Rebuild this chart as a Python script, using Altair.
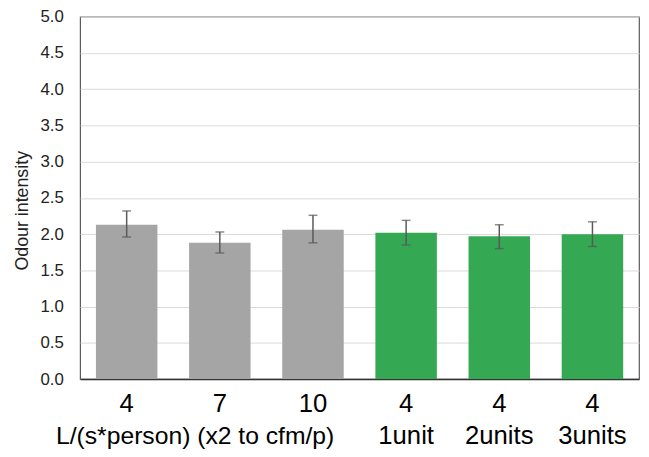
import altair as alt
import pandas as pd

categories = ["4 L/s", "7 L/s", "10 L/s", "4 L/s 1unit", "4 L/s 2units", "4 L/s 3units"]
tick_labels = ["4", "7", "10", "4", "4", "4"]
groups = ["ventilation", "ventilation", "ventilation", "unit", "unit", "unit"]
means = [2.13, 1.88, 2.06, 2.02, 1.97, 2.00]
err_low = [1.96, 1.74, 1.88, 1.85, 1.80, 1.83]
err_high = [2.32, 2.03, 2.26, 2.19, 2.13, 2.17]
unit_cats = ["4 L/s 1unit", "4 L/s 2units", "4 L/s 3units"]
unit_labels = ["1unit", "2units", "3units"]
group_cat = ["7 L/s"]
group_label = ["L/(s*person) (x2 to cfm/p)"]
y_ticks = [0.0, 0.5, 1.0, 1.5, 2.0, 2.5, 3.0, 3.5, 4.0, 4.5, 5.0]

FONT = "Liberation Sans"
Y_TITLE = "Odour intensity"

df = pd.DataFrame({"cat": categories, "group": groups, "mean": means,
                   "low": err_low, "high": err_high})
units_df = pd.DataFrame({"cat": unit_cats, "label": unit_labels})
group_df = pd.DataFrame({"cat": group_cat, "label": group_label})

label_map = "{" + ",".join(f"'{c}':'{t}'" for c, t in zip(categories, tick_labels)) + "}"

x_scale = alt.Scale(domain=categories, paddingInner=0.34, paddingOuter=0.17)
y_scale = alt.Scale(domain=[0, 5], nice=False)


def xe():
    return alt.X("cat:N", sort=categories, title=None, scale=x_scale)


bars = alt.Chart(df).mark_bar().encode(
    x=xe(),
    y=alt.Y("mean:Q", scale=y_scale, title=Y_TITLE),
    color=alt.Color("group:N", scale=alt.Scale(domain=["ventilation", "unit"],
                                               range=["#a5a5a5", "#34a853"]),
                    legend=None),
)

err_rule = alt.Chart(df).mark_rule(color="#595959", strokeWidth=1.5).encode(
    x=xe(),
    y=alt.Y("low:Q", scale=y_scale, title=Y_TITLE),
    y2="high:Q",
)
cap_low = alt.Chart(df).mark_tick(color="#595959", size=9, thickness=1.5).encode(
    x=xe(),
    y=alt.Y("low:Q", scale=y_scale, title=Y_TITLE),
)
cap_high = alt.Chart(df).mark_tick(color="#595959", size=9, thickness=1.5).encode(
    x=xe(),
    y=alt.Y("high:Q", scale=y_scale, title=Y_TITLE),
)

units_text = alt.Chart(units_df).mark_text(
    fontSize=26, font=FONT, color="#000000", baseline="alphabetic", align="center"
).encode(
    x=xe(),
    y=alt.value(433),
    text="label:N",
)
group_text = alt.Chart(group_df).mark_text(
    fontSize=25, font=FONT, color="#000000", baseline="alphabetic", align="center", dx=-25
).encode(
    x=xe(),
    y=alt.value(433),
    text="label:N",
)

chart = alt.layer(bars, err_rule, cap_low, cap_high, units_text, group_text).properties(
    width=566, height=367,
    padding={"left": 73, "top": 6, "right": 2, "bottom": 70},
    autosize=alt.AutoSizeParams(type="none"),
    background="#ffffff",
).configure_view(
    stroke="#595959", strokeWidth=1.2
).configure_axisX(
    labelExpr=f"{label_map}[datum.value]", labelAngle=0,
    labelFontSize=26, labelPadding=12, ticks=False,
    domainColor="#333333", domainWidth=1.5,
    labelColor="#000000", labelFont=FONT, grid=False,
).configure_axisY(
    values=y_ticks, format=".1f",
    ticks=False, domain=False, labelFontSize=17,
    labelPadding=17, labelColor="#222222", labelFont=FONT,
    titleFont=FONT, titleFontSize=18, titleFontWeight="normal",
    titleColor="#222222", titlePadding=9, titleY=196,
    gridColor="#d9d9d9", gridWidth=1, labelOverlap=False,
)

chart.save("out.html", embed_options={"renderer": "svg", "actions": False})
